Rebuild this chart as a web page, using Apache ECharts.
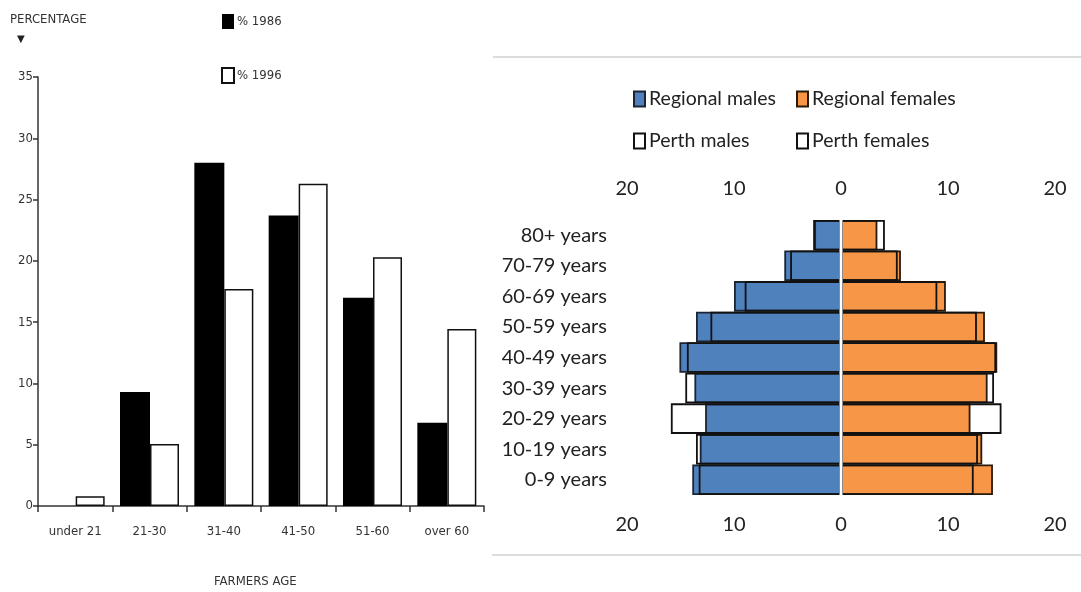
<!DOCTYPE html>
<html>
<head>
<meta charset="utf-8">
<script src="https://cdn.jsdelivr.net/npm/echarts@6/dist/echarts.min.js"></script>
<style>
html,body{margin:0;padding:0;background:#fff;}
#c{width:1081px;height:592px;}
</style>
</head>
<body>
<div id="c"></div>
<script>
// ---- Left chart data ----
const farmerAges = ['under 21', '21-30', '31-40', '41-50', '51-60', 'over 60'];
const pct1986 = [0, 9.3, 28.0, 23.7, 17.0, 6.8];
const pct1996 = [0.8, 5.05, 17.7, 26.3, 20.3, 14.45];
const leftTicks = [0, 5, 10, 15, 20, 25, 30, 35];

// ---- Right chart data ----
const ageGroups = ['0-9 years', '10-19 years', '20-29 years', '30-39 years', '40-49 years',
                   '50-59 years', '60-69 years', '70-79 years', '80+ years'];
const regionalMales   = [13.9, 13.2, 12.7, 13.7, 15.1, 13.55, 10.0, 5.3, 2.5];
const perthMales      = [13.3, 13.55, 15.9, 14.55, 14.4, 12.2, 9.0, 4.75, 2.6];
const regionalFemales = [14.2, 13.2, 12.1, 13.7, 14.6, 13.45, 9.8, 5.6, 3.4];
const perthFemales    = [12.4, 12.8, 15.0, 14.3, 14.5, 12.7, 9.0, 5.3, 4.1];

const narrow = "'Liberation Sans Narrow','DejaVu Sans Condensed',sans-serif";
const round = "Lato,'Open Sans',sans-serif";
const BLUE = '#4F81BD', ORANGE = '#F79646';

const chart = echarts.init(document.getElementById('c'), null, {renderer: 'canvas'});

const option = {
  animation: false,
  backgroundColor: '#fff',
  grid: [
    {left: 38, top: 77, width: 446, height: 429},
    {left: 627, top: 220, width: 428, height: 275}
  ],
  xAxis: [
    {
      gridIndex: 0, type: 'category', data: farmerAges, boundaryGap: true,
      axisLine: {lineStyle: {color: '#333', width: 1.5}},
      axisTick: {show: true, length: 6, lineStyle: {color: '#333', width: 1.5}},
      axisLabel: {color: '#333', fontFamily: narrow, fontSize: 13, margin: 19}
    },
    {
      gridIndex: 1, type: 'value', min: -20, max: 20, interval: 10, position: 'top',
      axisLine: {show: false}, axisTick: {show: false}, splitLine: {show: false},
      axisLabel: {color: '#222', fontFamily: round, fontSize: 20, margin: 21,
                  formatter: v => String(Math.abs(v))}
    },
    {
      gridIndex: 1, type: 'value', min: -20, max: 20, interval: 10, position: 'bottom',
      axisLine: {show: false}, axisTick: {show: false}, splitLine: {show: false},
      axisLabel: {color: '#222', fontFamily: round, fontSize: 20, margin: 20,
                  formatter: v => String(Math.abs(v))}
    }
  ],
  yAxis: [
    {
      gridIndex: 0, type: 'value', min: 0, max: 35, interval: 5,
      axisLine: {show: true, lineStyle: {color: '#333', width: 1.5}},
      axisTick: {show: true, length: 5, lineStyle: {color: '#333', width: 1.5}},
      splitLine: {show: false},
      axisLabel: {color: '#333', fontFamily: narrow, fontSize: 13, margin: 5}
    },
    {
      gridIndex: 1, type: 'category', data: ageGroups,
      axisLine: {show: false}, axisTick: {show: false},
      axisLabel: {color: '#222', fontFamily: round, fontSize: 20, margin: 20}
    }
  ],
  legend: [
    {
      data: ['% 1986', '% 1996'], orient: 'vertical', left: 221, top: 14, padding: 0,
      itemWidth: 12, itemHeight: 15, itemGap: 38, icon: 'rect',
      textStyle: {color: '#333', fontFamily: narrow, fontSize: 13, padding: [0, 0, 0, -2]}
    },
    {
      data: ['Regional males'], left: 633, top: 89, padding: 0, itemWidth: 11, itemHeight: 15, icon: 'rect',
      textStyle: {color: '#222', fontFamily: round, fontSize: 19.5, padding: [0, 0, 0, -1]}
    },
    {
      data: ['Regional females'], left: 796, top: 89, padding: 0, itemWidth: 11, itemHeight: 15, icon: 'rect',
      textStyle: {color: '#222', fontFamily: round, fontSize: 19.5, padding: [0, 0, 0, -1]}
    },
    {
      data: ['Perth males'], left: 633, top: 131, padding: 0, itemWidth: 11, itemHeight: 15, icon: 'rect',
      textStyle: {color: '#222', fontFamily: round, fontSize: 19.5, padding: [0, 0, 0, -1]}
    },
    {
      data: ['Perth females'], left: 796, top: 131, padding: 0, itemWidth: 11, itemHeight: 15, icon: 'rect',
      textStyle: {color: '#222', fontFamily: round, fontSize: 19.5, padding: [0, 0, 0, -1]}
    }
  ],
  series: [
    {
      name: '% 1986', type: 'bar', xAxisIndex: 0, yAxisIndex: 0, data: pct1986,
      barWidth: 30, barGap: '0%',
      itemStyle: {color: '#000', borderWidth: 0}
    },
    {
      name: '% 1996', type: 'bar', xAxisIndex: 0, yAxisIndex: 0, data: pct1996,
      barWidth: 29, barGap: '0%',
      itemStyle: {color: '#fff', borderColor: '#111', borderWidth: 1.5}
    },
    {
      name: 'Regional males', type: 'bar', xAxisIndex: 1, yAxisIndex: 1,
      data: regionalMales.map(v => -v), barCategoryGap: '0%', barGap: '-100%',
      itemStyle: {color: BLUE, borderColor: '#1b2430', borderWidth: 1.8}
    },
    {
      name: 'Regional females', type: 'bar', xAxisIndex: 1, yAxisIndex: 1,
      data: regionalFemales, barCategoryGap: '0%', barGap: '-100%',
      itemStyle: {color: ORANGE, borderColor: '#2a1a0a', borderWidth: 1.8}
    },
    {
      name: 'Perth males', type: 'bar', xAxisIndex: 1, yAxisIndex: 1,
      data: perthMales.map(v => -v), barCategoryGap: '0%', barGap: '-100%',
      itemStyle: {color: 'rgba(255,255,255,0)', borderColor: '#111', borderWidth: 1.8}
    },
    {
      name: 'Perth females', type: 'bar', xAxisIndex: 1, yAxisIndex: 1,
      data: perthFemales, barCategoryGap: '0%', barGap: '-100%',
      itemStyle: {color: 'rgba(255,255,255,0)', borderColor: '#111', borderWidth: 1.8}
    }
  ],
  graphic: [
    {type: 'text', left: 10, top: 13, style: {text: 'PERCENTAGE', fill: '#333', font: '13px ' + narrow}},
    {type: 'text', left: 17, top: 34, style: {text: '▼', fill: '#222', font: '10px DejaVu Sans'}},
    {type: 'text', left: 214, top: 575, style: {text: 'FARMERS AGE', fill: '#333', font: '13px ' + narrow}},
    {type: 'line', shape: {x1: 493, y1: 57, x2: 1081, y2: 57}, style: {stroke: '#dcdcdc', lineWidth: 2}},
    {type: 'line', shape: {x1: 492, y1: 555, x2: 1081, y2: 555}, style: {stroke: '#dcdcdc', lineWidth: 2}},
    {type: 'rect', shape: {x: 839.5, y: 219, width: 3, height: 277}, style: {fill: '#fff'}, z: 100}
  ]
};

chart.setOption(option);
</script>
</body>
</html>
